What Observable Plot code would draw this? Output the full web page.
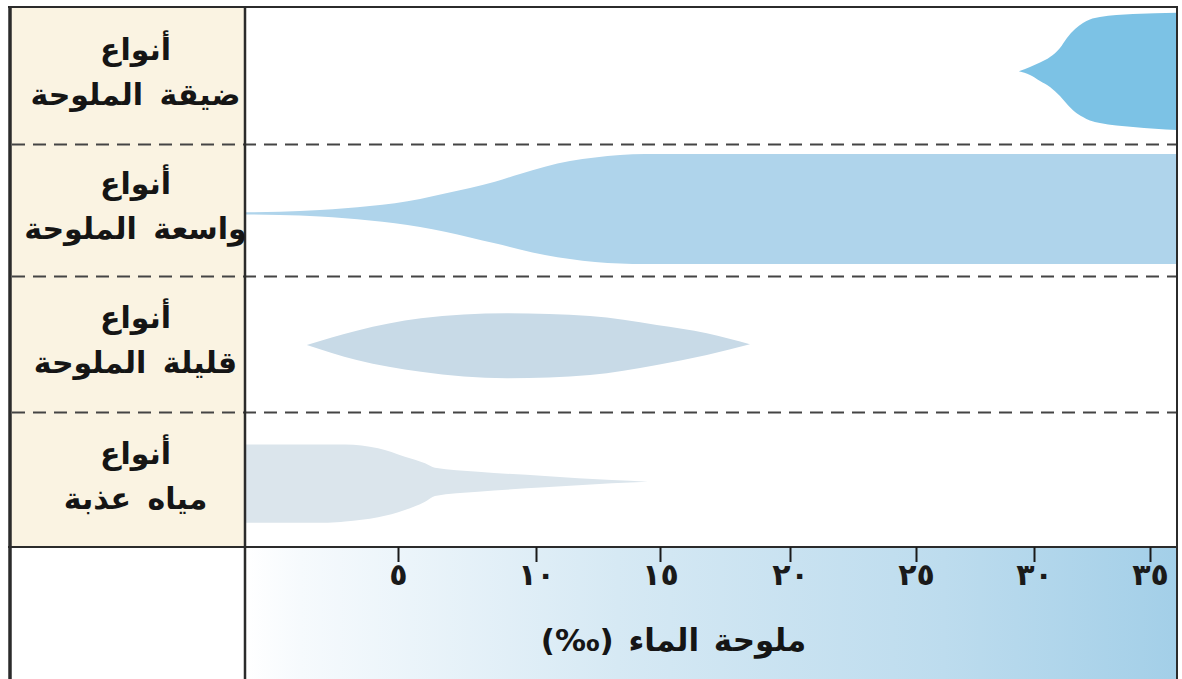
<!DOCTYPE html>
<html><head><meta charset="utf-8">
<script src="https://cdn.jsdelivr.net/npm/d3@7"></script>
<script src="https://cdn.jsdelivr.net/npm/@observablehq/plot@0.6"></script>
<style>
html,body{margin:0;padding:0;background:#fff;}
#chart svg{display:block}
#chart g[aria-label="y-axis tick label"] text{word-spacing:6px;}
#chart g[aria-label="text"] text{word-spacing:4px;}
</style>
</head><body><div id="chart"></div>
<script>
// ---- categories (rows, top to bottom) ----
const rowLine1 = ["أنواع", "أنواع", "أنواع", "أنواع"];
const rowLine2 = ["ضيقة الملوحة", "واسعة الملوحة", "قليلة الملوحة", "مياه عذبة"];
const rowColors = ["#7cc2e5", "#afd4eb", "#c8dae7", "#dbe5ec"];

// ---- salinity axis ----
const tickValues = [5, 10, 15, 20, 25, 30, 35];
const tickLabels = ["٥", "١٠", "١٥", "٢٠", "٢٥", "٣٠", "٣٥"];
const axisTitle = "ملوحة الماء (‰)";

// ---- tolerance outlines: salinity (‰), upper and lower edge (fraction of the row, from its top) ----
const narrowS   = [29.36, 29.83, 30.26, 30.69, 31.12, 31.42, 31.77, 32.11, 32.41, 32.84, 34.27, 36.2];
const narrowTop = [0.469, 0.438, 0.405, 0.365, 0.299, 0.226, 0.161, 0.117, 0.091, 0.073, 0.051, 0.042];
const narrowBot = [0.469, 0.496, 0.540, 0.584, 0.650, 0.708, 0.766, 0.803, 0.829, 0.847, 0.876, 0.898];

const wideS   = [0, 1.14, 2.45, 3.27, 4.08, 4.90, 5.80, 6.70, 7.61, 8.51, 9.42, 10.36, 11.37, 12.38, 13.39, 14.40, 36.2];
const wideTop = [0.517, 0.514, 0.500, 0.487, 0.470, 0.449, 0.417, 0.375, 0.333, 0.286, 0.227, 0.172, 0.129, 0.102, 0.083, 0.076, 0.076];
const wideBot = [0.534, 0.538, 0.549, 0.563, 0.580, 0.601, 0.629, 0.664, 0.708, 0.752, 0.799, 0.841, 0.871, 0.894, 0.905, 0.909, 0.909];

const brackS   = [2.02, 3.65, 5.83, 8.94, 12.18, 14.87, 16.80, 18.46];
const brackTop = [0.507, 0.402, 0.311, 0.274, 0.294, 0.360, 0.421, 0.502];
const brackBot = [0.507, 0.618, 0.704, 0.752, 0.728, 0.654, 0.581, 0.502];

const freshS   = [0, 2.71, 3.27, 4.35, 5.25, 5.98, 6.34, 7.9, 10.36, 13.06, 14.51];
const freshTop = [0.240, 0.240, 0.240, 0.269, 0.331, 0.380, 0.413, 0.442, 0.474, 0.504, 0.516];
const freshBot = [0.820, 0.820, 0.811, 0.780, 0.726, 0.664, 0.622, 0.590, 0.558, 0.528, 0.516];

// ---- build tables ----
const outlines = [
  [narrowS, narrowTop, narrowBot],
  [wideS, wideTop, wideBot],
  [brackS, brackTop, brackBot],
  [freshS, freshTop, freshBot]
];
const tables = outlines.map(([S, T, B], row) =>
  S.map((s, j) => ({row, s, top: row + T[j], bot: row + B[j]})));

// ---- layout ----
const W = 1182, H = 679;
const mTop = 7, mLeft = 245, mRight = 5, mBottom = 132;
const panelLeft = 10;
const lineColor = "#2b2b2b";

const backdrop = (index, scales, values, dims) => {
  const {width, height, marginTop, marginLeft, marginRight, marginBottom} = dims;
  const bottom = height - marginBottom;
  const g = d3.create("svg:g");
  const lg = g.append("defs").append("linearGradient")
    .attr("id", "salgrad").attr("x1", 0).attr("x2", 1).attr("y1", 0).attr("y2", 0);
  [["0%", "#ffffff"], ["6%", "#f6fafd"], ["40%", "#d6e9f4"], ["75%", "#bddcee"], ["100%", "#a3cfe8"]]
    .forEach(([o, c]) => lg.append("stop").attr("offset", o).attr("stop-color", c));
  g.append("rect").attr("x", panelLeft).attr("y", marginTop)
    .attr("width", marginLeft - panelLeft).attr("height", bottom - marginTop).attr("fill", "#faf3e2");
  g.append("rect").attr("x", marginLeft).attr("y", bottom)
    .attr("width", width - marginRight - marginLeft).attr("height", marginBottom).attr("fill", "url(#salgrad)");
  return g.node();
};

const borders = (index, scales, values, dims) => {
  const {width, height, marginTop, marginLeft, marginRight, marginBottom} = dims;
  const bottom = height - marginBottom, right = width - marginRight;
  const g = d3.create("svg:g").attr("stroke", lineColor).attr("fill", "none");
  g.append("line").attr("x1", panelLeft - 2).attr("x2", right + 1).attr("y1", marginTop).attr("y2", marginTop).attr("stroke-width", 2);
  g.append("line").attr("x1", panelLeft - 2).attr("x2", right + 1).attr("y1", bottom).attr("y2", bottom).attr("stroke-width", 2);
  g.append("line").attr("x1", panelLeft).attr("x2", panelLeft).attr("y1", marginTop - 1).attr("y2", height).attr("stroke-width", 3.5);
  g.append("line").attr("x1", marginLeft).attr("x2", marginLeft).attr("y1", marginTop).attr("y2", height).attr("stroke-width", 2.5);
  g.append("line").attr("x1", right).attr("x2", right).attr("y1", marginTop - 1).attr("y2", height).attr("stroke-width", 2);
  return g.node();
};

const plot = Plot.plot({
  width: W, height: H,
  marginTop: mTop, marginLeft: mLeft, marginRight: mRight, marginBottom: mBottom,
  style: {fontFamily: "DejaVu Sans, sans-serif", background: "#fff", color: "#111"},
  x: {type: "linear", domain: [0, 5, 10, 15, 20, 25, 30, 35, 36.2],
      range: [245, 398, 536, 660, 790, 916, 1034, 1150, 1177]},
  y: {type: "linear", domain: [0, 1, 2, 3, 4], range: [7, 144, 276, 412, 547]},
  marks: [
    backdrop,
    ...tables.map((t, i) => Plot.areaY(t, {x: "s", y1: "top", y2: "bot", fill: rowColors[i], curve: "monotone-x"})),
    Plot.ruleY([1, 2, 3], {stroke: "#444", strokeWidth: 2, strokeDasharray: "13,8", insetLeft: -(mLeft - panelLeft - 2)}),
    borders,
    Plot.axisX({
      anchor: "bottom", ticks: tickValues, tickFormat: d => tickLabels[tickValues.indexOf(d)],
      tickSize: 15, tickPadding: 1, strokeWidth: 2, fontSize: 30, fontWeight: "bold",
      color: "#1a1a1a", label: null
    }),
    Plot.axisY({
      anchor: "left", ticks: [0.5, 1.5, 2.5, 3.5],
      tickFormat: d => rowLine1[Math.floor(d)] + "\n" + rowLine2[Math.floor(d)],
      tickSize: 0, tickPadding: 110, textAnchor: "middle", lineHeight: 1.5, dy: -8,
      fontSize: 30, fontWeight: "bold", color: "#151515", label: null
    }),
    Plot.text([axisTitle], {
      text: d => "\u202B" + d + "\u202C", frameAnchor: "bottom", dx: -38, dy: 103,
      fontSize: 31, fontWeight: "bold", fill: "#151515"
    })
  ]
});
document.getElementById("chart").append(plot);
</script>
</body></html>
